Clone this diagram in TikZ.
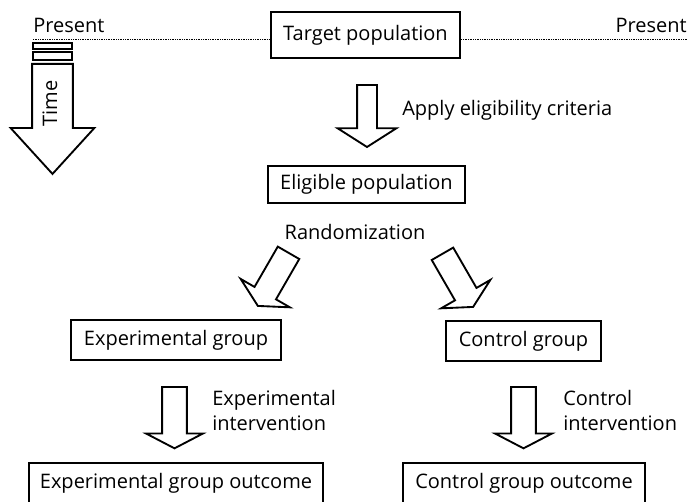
\documentclass[tikz,border=0pt]{standalone}
\usepackage{fontspec}
\setmainfont{Open Sans}
\usetikzlibrary{shapes.arrows,calc}

\tikzset{
  grpbox/.style={draw, line width=1.6pt, inner sep=0pt, font=\fontsize{15}{18}\selectfont},
  lbl/.style={inner sep=0pt, font=\fontsize{15}{18.75}\selectfont},
  hollowarrow/.style={single arrow, draw, line width=1.4pt, fill=white, text height=0pt, text depth=0pt, inner xsep=0pt, minimum width=0pt, anchor=tail},
  timearrow/.style={hollowarrow, inner ysep=14.6pt, single arrow head extend=16.1pt, single arrow tip angle=84.7, minimum height=82.5pt},
  applyarrow/.style={hollowarrow, inner ysep=6.75pt, single arrow head extend=14.6pt, single arrow tip angle=115, minimum height=46.5pt},
  grparrow/.style={hollowarrow, inner ysep=8.6pt, single arrow head extend=12pt, single arrow tip angle=125, minimum height=46pt},
  dotline/.style={line width=0.7pt, dash pattern=on 0.7pt off 0.6pt}
}

\begin{document}
\begin{tikzpicture}[x=0.75pt,y=0.75pt,yscale=-1,xscale=1]
\useasboundingbox (0,0) rectangle (688,502);

% boxes
\node[grpbox, minimum width=141.75pt, minimum height=34.5pt] (target) at (365.5,35) {Target population};
\node[grpbox, minimum width=147.75pt, minimum height=27.75pt] (eligible) at (366.5,184.5) {Eligible population};
\node[grpbox, minimum width=157.5pt, minimum height=30pt] (expgrp) at (176,340) {Experimental group};
\node[grpbox, minimum width=116.25pt, minimum height=30pt] (ctrlgrp) at (523.5,341) {Control group};
\node[grpbox, minimum width=220.5pt, minimum height=30.75pt] (expout) at (176,483.5) {Experimental group outcome};
\node[grpbox, minimum width=181.5pt, minimum height=30.75pt] (ctrlout) at (524,483.5) {Control group outcome};

% labels
\node[lbl, anchor=west] (presL) at (33,25) {Present};
\node[lbl, anchor=east] (presR) at (687,25) {Present};
\node[lbl, anchor=west] (applylbl) at (402,110) {Apply eligibility criteria};
\node[lbl] (randlbl) at (355,232) {Randomization};
\node[lbl, anchor=west, align=left] (explbl) at (212,410.5) {Experimental\\intervention};
\node[lbl, anchor=west, align=left] (ctrllbl) at (563,410.5) {Control\\intervention};

% present line
\coordinate (pline) at (0,39);
\draw[dotline] (presL.west |- pline) -- (target.west |- pline);
\draw[dotline] (target.east |- pline) -- (presR.east |- pline);

% time
\draw[line width=1.4pt] (33,43) rectangle (72,49);
\draw[line width=1.4pt] (33,52) rectangle (72,60);
\node[timearrow, rotate=-90] (timearr) at (52.5,63) {};
\node[lbl, rotate=90] (timelbl) at (50,103.5) {Time};

% block arrows
\node[applyarrow, rotate=-90] (applyarr) at ($(target.south)+(1.5,25)$) {};
\node[grparrow, rotate=-120] (leftarr) at ($(randlbl)+(-66,20)$) {};
\node[grparrow, rotate=-60] (rightarr) at ($(randlbl)+(87,21)$) {};
\node[grparrow, rotate=-90] (exparr) at ($(expgrp.south)+(-1.5,25)$) {};
\node[grparrow, rotate=-90] (ctrlarr) at ($(ctrlgrp.south)+(0,24)$) {};

\end{tikzpicture}
\end{document}
